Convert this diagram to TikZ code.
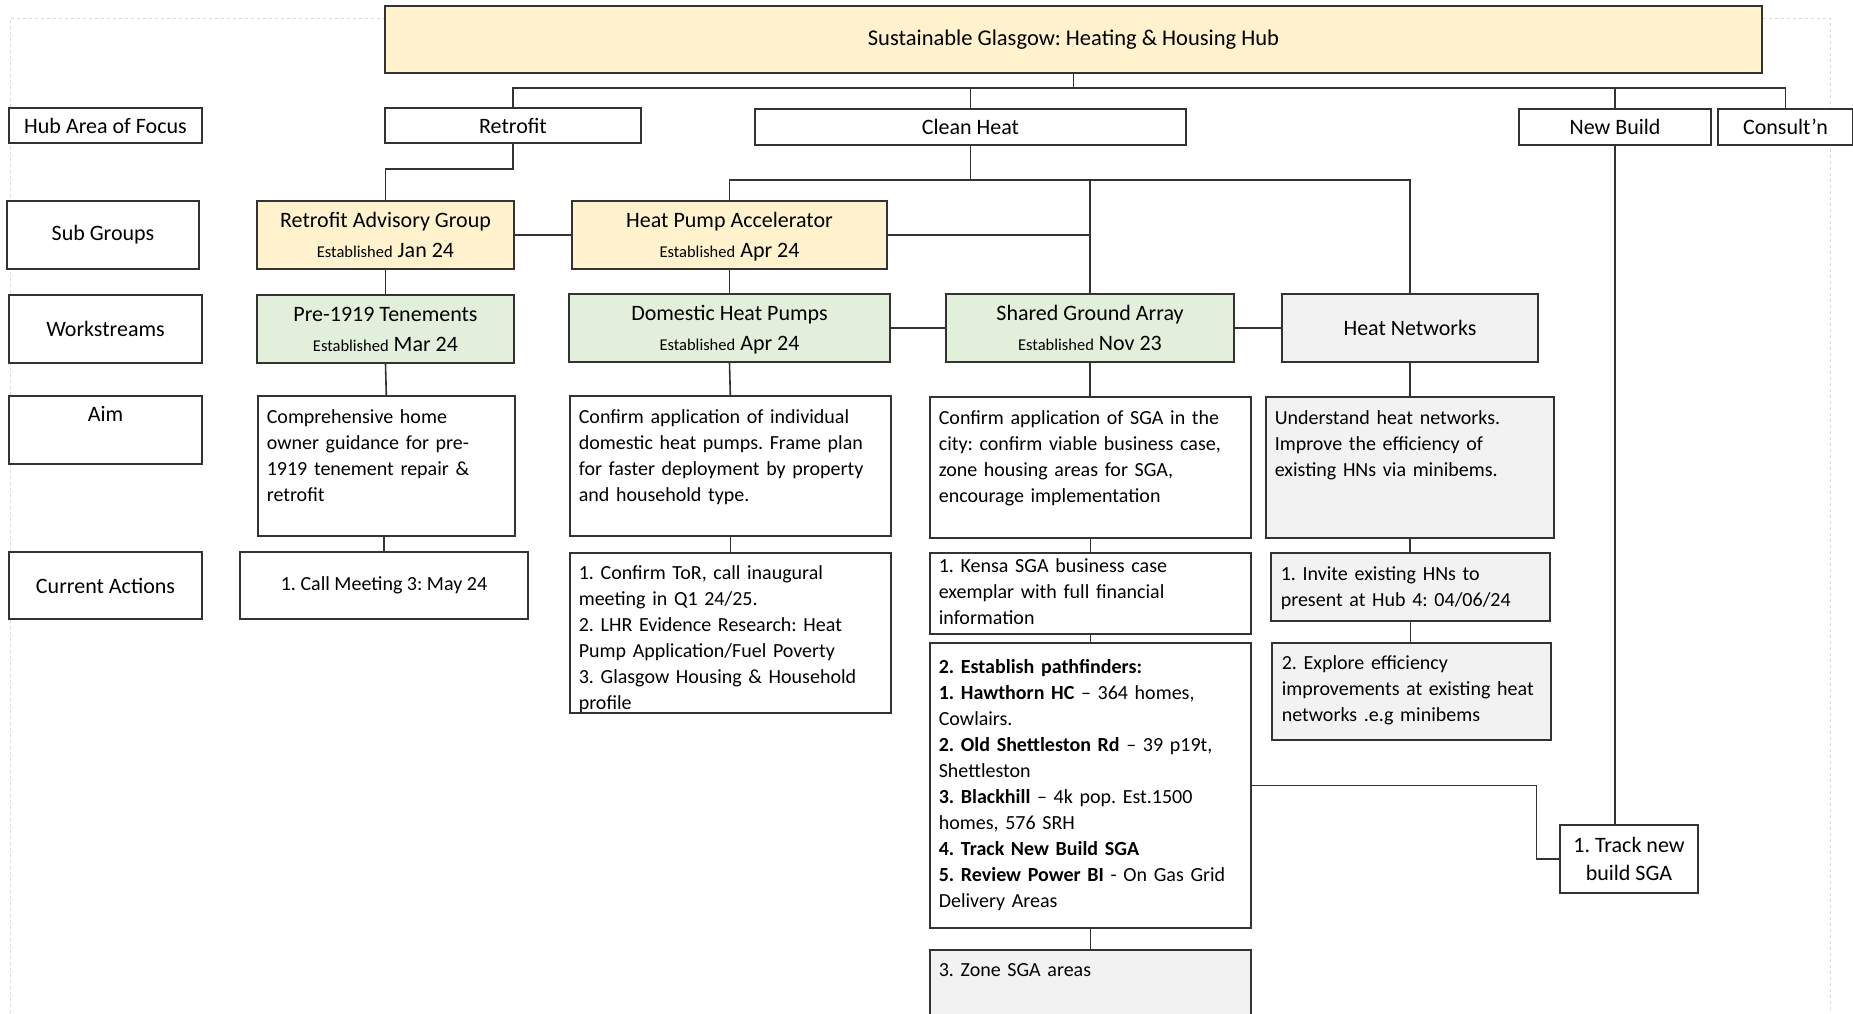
\documentclass[tikz,border=0pt]{standalone}
\usepackage{fontspec}
\setmainfont{Carlito}
\usepackage{tikz}

\definecolor{hubyellow}{HTML}{FFF2CC}
\definecolor{hubgreen}{HTML}{E2EFDA}
\definecolor{hubgrey}{HTML}{F2F2F2}
\definecolor{hubline}{HTML}{333333}

\newcommand{\est}[1]{{\fontsize{16.5}{30}\selectfont Established} \raisebox{0pt}[\height][0pt]{#1}}

\begin{document}
\frenchspacing
\begin{tikzpicture}[x=1pt, y=-1pt, color=hubline,
    every node/.style={draw, fill=white, text=black, rectangle, inner sep=0pt, align=center},
    every path/.style={line width=1.6pt},
    hdr/.style={font=\fontsize{22}{30}\selectfont},
    body/.style={font=\fontsize{20}{26}\selectfont},
    txt/.style={body, align=left, anchor=north west, inner xsep=9pt},
    yel/.style={fill=hubyellow},
    grn/.style={fill=hubgreen},
    gry/.style={fill=hubgrey}]

    \useasboundingbox (0,0) rectangle (1853,1013);

    \draw[gray!30, line width=0.8pt, dashed] (10,1013) -- (10,18) -- (1830,18) -- (1830,1013);

    \node[font=\fontsize{22.5}{30}\selectfont, yel, minimum width=1377pt, minimum height=67pt] (hub) at (1073.5,39.5) {Sustainable Glasgow: Heating \& Housing Hub};

    \node[hdr, minimum width=193pt, minimum height=35pt] (focus) at (105.5,125.5) {Hub Area of Focus};
    \node[hdr, minimum width=192pt, minimum height=68pt] (subgroups) at (103,235) {Sub Groups};
    \node[hdr, minimum width=193pt, minimum height=68pt] (workstreams) at (105.5,329) {Workstreams};
    \node[hdr, anchor=north, text width=193pt, text height=26pt, text depth=42pt] (aim) at (105.5,395) {Aim};
    \node[hdr, minimum width=193pt, minimum height=67pt] (actions) at (105.5,585.5) {Current Actions};

    \node[hdr, minimum width=256pt, minimum height=35pt] (retrofit) at (513,125.5) {Retrofit};
    \node[hdr, minimum width=431pt, minimum height=36pt] (cleanheat) at (970.5,127) {Clean Heat};
    \node[hdr, minimum width=192pt, minimum height=36pt] (newbuild) at (1615,127) {New Build};
    \node[hdr, minimum width=135pt, minimum height=36pt] (consult) at (1785.5,127) {Consult’n};

    \node[hdr, yel, minimum width=257pt, minimum height=68pt] (rag) at (385.5,235) {Retrofit Advisory Group\\\est{Jan 24}};
    \node[hdr, yel, minimum width=315pt, minimum height=68pt] (hpa) at (729.5,235) {Heat Pump Accelerator\\\est{Apr 24}};

    \node[hdr, grn, minimum width=257pt, minimum height=68pt] (tenements) at (385.5,329) {Pre-1919 Tenements\\\est{Mar 24}};
    \node[hdr, grn, minimum width=321pt, minimum height=68pt] (dhp) at (729.5,328) {Domestic Heat Pumps\\\est{Apr 24}};
    \node[hdr, grn, minimum width=288pt, minimum height=68pt] (sga) at (1090,328) {Shared Ground Array\\\est{Nov 23}};
    \node[hdr, gry, minimum width=256pt, minimum height=68pt] (heatnet) at (1410,328) {Heat Networks};

    \node[txt, text width=239pt, text height=28pt, text depth=112pt] (tenaim) at (257,395) {Comprehensive home\\owner guidance for pre-\\1919 tenement repair \&\\retrofit};
    \node[txt, text width=303pt, text height=28pt, text depth=112pt] (dhpaim) at (569,395) {Confirm application of individual\\domestic heat pumps. Frame plan\\for faster deployment by property\\and household type.};
    \node[txt, text width=303pt, text height=28pt, text depth=113pt] (sgaaim) at (929,396) {Confirm application of SGA in the\\city: confirm viable business case,\\zone housing areas for SGA,\\encourage implementation};
    \node[txt, gry, text width=270pt, text height=28pt, text depth=113pt] (hnaim) at (1265,396) {Understand heat networks.\\Improve the efficiency of\\existing HNs via minibems.};

    \node[body, minimum width=288pt, minimum height=67pt] (meeting) at (384,585.5) {1. Call Meeting 3: May 24};
    \node[txt, text width=303pt, text height=27pt, text depth=133pt] (dhpact) at (569,552) {1. Confirm ToR, call inaugural\\meeting in Q1 24/25.\\2. LHR Evidence Research: Heat\\Pump Application/Fuel Poverty\\3. Glasgow Housing \& Household\\profile};
    \node[txt, text width=303pt, text height=20pt, text depth=61pt] (kensa) at (929,552) {1. Kensa SGA business case\\exemplar with full financial\\information};
    \node[txt, text width=303pt, text height=31pt, text depth=254pt] (pathfinders) at (929,642) {\textbf{2. Establish pathfinders:}\\\textbf{1. Hawthorn HC} – 364 homes,\\Cowlairs.\\\textbf{2. Old Shettleston Rd} – 39 p19t,\\Shettleston\\\textbf{3. Blackhill} – 4k pop. Est.1500\\homes, 576 SRH\\\textbf{4. Track New Build SGA}\\\textbf{5. Review Power BI} - On Gas Grid\\Delivery Areas};
    \node[txt, gry, text width=303pt, text height=27pt, text depth=70pt] (zone) at (929,949) {3. Zone SGA areas};
    \node[txt, gry, inner xsep=10pt, text width=259pt, text height=28pt, text depth=40pt] (hninvite) at (1270,552) {1. Invite existing HNs to\\present at Hub 4: 04/06/24};
    \node[txt, gry, inner xsep=10pt, text width=259pt, text height=27pt, text depth=70pt] (hnexplore) at (1271,642) {2. Explore efficiency\\improvements at existing heat\\networks .e.g minibems};

    \node[font=\fontsize{22}{28}\selectfont, minimum width=138pt, minimum height=68pt] (track) at (1629,859) {1. Track new\\build SGA};

    \draw[] (hub.south) -- ++(0,14) -| (retrofit.north);
    \draw[] (hub.south) -- ++(0,14) -| (cleanheat.north);
    \draw[] (hub.south) -- ++(0,14) -| (newbuild.north);
    \draw[] (hub.south) -- ++(0,14) -| (consult.north);
    \draw[] (retrofit.south) -- ++(0,25) -| (rag.north);
    \draw[] (cleanheat.south) -- ++(0,34) -| (hpa.north);
    \draw[] (cleanheat.south) -- ++(0,34) -| (sga.north);
    \draw[] (cleanheat.south) -- ++(0,34) -| (heatnet.north);
    \draw[] (rag.east) -- (hpa.west);
    \draw[] (hpa.east) -- (hpa.east -| sga.north);
    \draw[] (rag.south) -- (tenements.north);
    \draw[] (hpa.south) -- (dhp.north);
    \draw[] (dhp.east) -- (sga.west);
    \draw[] (sga.east) -- (heatnet.west);
    \draw[] (tenements.south) -- (tenaim.north);
    \draw[] (dhp.south) -- (dhpaim.north);
    \draw[] (sga.south) -- (sga.south |- sgaaim.north);
    \draw[] (heatnet.south) -- (heatnet.south |- hnaim.north);
    \draw[] (meeting.north) -- (meeting.north |- tenaim.south);
    \draw[] (dhpaim.south) -- (dhpact.north);
    \draw[] (sgaaim.south) -- (kensa.north);
    \draw[] (kensa.south) -- (pathfinders.north);
    \draw[] (pathfinders.south) -- (zone.north);
    \draw[] (hnaim.south) -- (hnaim.south |- hninvite.north);
    \draw[] (hninvite.south) -- (hninvite.south |- hnexplore.north);
    \draw[] (newbuild.south) -- (newbuild.south |- track.north);
    \draw[] (pathfinders.east) -- ++(285,0) |- (track.west);
\end{tikzpicture}
\end{document}
